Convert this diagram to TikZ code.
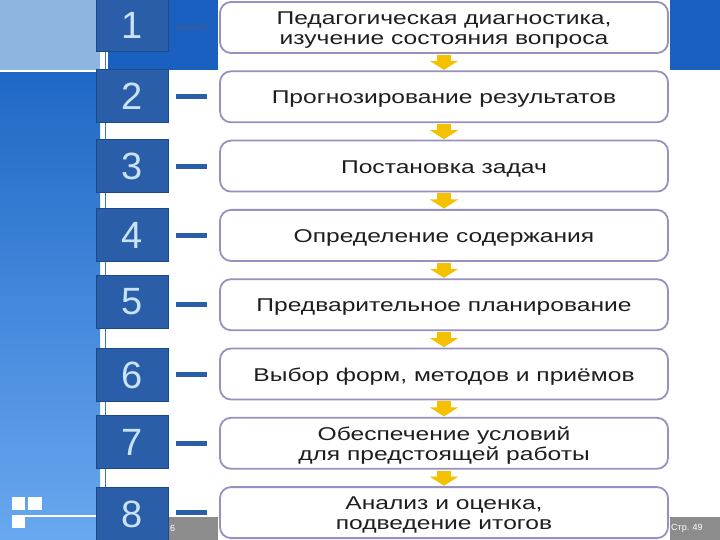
\documentclass[tikz,border=0pt]{standalone}
\usepackage{fontspec}
\setmainfont[FakeStretch=1.33]{Liberation Sans}
\newfontfamily\numfont{Liberation Sans}
\usetikzlibrary{arrows.meta}
\newcommand{\stx}[1]{\raisebox{-2.5pt}[\height][\depth]{\parbox{440pt}{\centering #1}}}
\definecolor{bandblue}{RGB}{26,96,192}
\definecolor{paneltop}{RGB}{32,104,198}
\definecolor{panelbot}{RGB}{104,168,240}
\definecolor{lightblock}{RGB}{142,180,224}
\definecolor{numfill}{RGB}{43,94,168}
\definecolor{numline}{RGB}{28,72,140}
\definecolor{numtext}{RGB}{200,226,248}
\definecolor{boxline}{RGB}{152,144,192}
\definecolor{txt}{RGB}{30,30,30}
\definecolor{arrowy}{RGB}{245,192,0}
\definecolor{barGray}{RGB}{140,140,140}
\definecolor{thinblue}{RGB}{58,120,200}
\begin{document}
\begin{tikzpicture}[x=1pt,y=-1pt,
  stepbox/.style={draw=boxline, line width=1.8pt, rounded corners=11pt, fill=white,
    minimum width=448pt, minimum height=51pt,
    font=\fontsize{18.5}{19.5}\selectfont, text=txt, inner sep=0pt},
  numbox/.style={draw=numline, line width=1pt, fill=numfill, minimum width=72pt,
    minimum height=53pt, inner sep=0pt, font=\numfont\fontsize{38}{38}\selectfont, text=numtext},
  dashline/.style={draw=numfill, line width=5pt},
  yarrow/.style={draw=arrowy, line width=14pt, -{Triangle[width=28pt,length=9pt]}},
  smalltxt/.style={font=\numfont\fontsize{9}{9}\selectfont, text=white, inner sep=0pt}]
\useasboundingbox (0,0) rectangle (720,540);
% backgrounds
\fill[white] (0,0) rectangle (720,540);
\fill[bandblue] (108,0) rectangle (720,70);
\fill[lightblock] (0,0) rectangle (100,70);
\shade[top color=paneltop, bottom color=panelbot] (0,73) rectangle (100,540);
\fill[barGray] (108,517) rectangle (720,540);
\fill[white] (218,0) rectangle (670,540);
\draw[thinblue, line width=1.5pt] (105.5,0) -- (105.5,540);
% bottom-left icon
\fill[white] (12,497) rectangle (25,510);
\fill[white] (28,497) rectangle (42,510);
\fill[white] (12,515) rectangle (25,528);
\draw[white, line width=2pt] (25,516) -- (100,516);
% footer text
\node[smalltxt, anchor=west] (pgl) at (170,528) {6};
\node[smalltxt, anchor=west] (pgr) at (671,528) {Стр. 49};
% squares
\foreach \i/\y in {1/25.5, 2/96, 3/166, 4/235, 5/302, 6/375, 7/442, 8/514}{
  \node[numbox] (n\i) at (132,\y) {\i};
}
% boxes
\node[stepbox] (b1) at (444,27.5) {\stx{Педагогическая диагностика,\\изучение состояния вопроса}};
\node[stepbox] (b2) at (444,96.8) {\stx{Прогнозирование результатов}};
\node[stepbox] (b3) at (444,166.1) {\stx{Постановка задач}};
\node[stepbox] (b4) at (444,235.4) {\stx{Определение содержания}};
\node[stepbox] (b5) at (444,304.7) {\stx{Предварительное планирование}};
\node[stepbox] (b6) at (444,374) {\stx{Выбор форм, методов и приёмов}};
\node[stepbox] (b7) at (444,443.3) {\stx{Обеспечение условий\\для предстоящей работы}};
\node[stepbox] (b8) at (444,512.6) {\stx{Анализ и оценка,\\подведение итогов}};
% dashes and arrows
\foreach \i in {1,...,8}{
  \draw[dashline] ([xshift=7pt]n\i.east |- b\i.west) -- ([xshift=-12pt]b\i.west);
}
\foreach \i/\j in {1/2,2/3,3/4,4/5,5/6,6/7,7/8}{
  \draw[yarrow] ([yshift=-1pt]b\i.south) -- ([yshift=0.5pt]b\j.north);
}
\end{tikzpicture}
\end{document}
